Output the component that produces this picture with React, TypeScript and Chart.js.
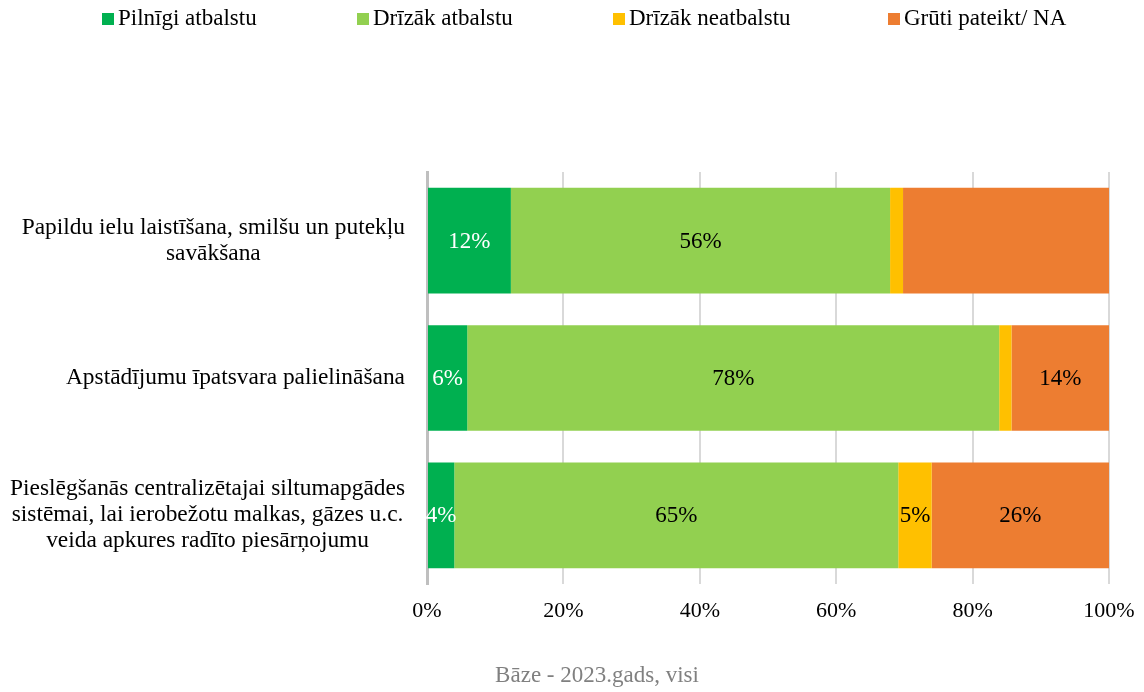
import React, { useEffect, useRef } from "react";
import { Chart, registerables } from "chart.js";

Chart.register(...registerables);

const categories: string[][] = [
  ["Papildu ielu laistīšana, smilšu un putekļu", "savākšana"],
  ["Apstādījumu īpatsvara palielināšana"],
  [
    "Pieslēgšanās centralizētajai siltumapgādes",
    "sistēmai, lai ierobežotu malkas, gāzes u.c.",
    "veida apkures radīto piesārņojumu",
  ],
];
const seriesNames = ["Pilnīgi atbalstu", "Drīzāk atbalstu", "Drīzāk neatbalstu", "Grūti pateikt/ NA"];
const fullySupport = [12.3, 5.9, 4.0];
const ratherSupport = [55.6, 78.0, 65.1];
const ratherNotSupport = [1.9, 1.8, 4.9];
const hardToSay = [30.2, 14.3, 26.0];
const fullySupportShowLabel = [true, true, true];
const ratherSupportShowLabel = [true, true, true];
const ratherNotSupportShowLabel = [false, false, true];
const hardToSayShowLabel = [false, true, true];
const xTickValues = [0, 20, 40, 60, 80, 100];
const footnote = "Bāze - 2023.gads, visi";

const COLORS = ["#00B050", "#92D050", "#FFC000", "#ED7D31"];
const LABEL_COLORS = ["#FFFFFF", "#000000", "#000000", "#000000"];
const FONT = '"Liberation Serif", "Times New Roman", serif';
const FS = 23;

const customDraw = {
  id: "customDraw",
  afterDatasetsDraw(chart: any) {
    const ctx = chart.ctx;
    ctx.save();
    ctx.font = `${FS}px ${FONT}`;
    ctx.textAlign = "center";
    ctx.textBaseline = "middle";
    chart.data.datasets.forEach((ds: any, di: number) => {
      const meta = chart.getDatasetMeta(di);
      meta.data.forEach((el: any, i: number) => {
        if (!ds.showLabel[i]) return;
        const cx = (el.x + el.base) / 2;
        ctx.fillStyle = LABEL_COLORS[di];
        ctx.fillText(Math.round(ds.data[i]) + "%", cx, el.y + 1);
      });
    });
    ctx.restore();
  },
  afterDraw(chart: any) {
    const ctx = chart.ctx;
    ctx.save();
    ctx.font = `23.4px ${FONT}`;
    ctx.textBaseline = "middle";
    const yScale = chart.scales.y;
    const rightEdge = chart.chartArea.left - 22;
    const lineH = 26;
    categories.forEach((lines, i) => {
      const yc = yScale.getPixelForValue(i);
      const maxW = Math.max(...lines.map((l) => ctx.measureText(l).width));
      const cx = rightEdge - maxW / 2;
      ctx.textAlign = "center";
      ctx.fillStyle = "#000000";
      lines.forEach((l, k) => {
        const y = yc + (k - (lines.length - 1) / 2) * lineH;
        ctx.fillText(l, cx, y);
      });
    });
    ctx.font = `${FS}px ${FONT}`;
    const legendX = [102, 357, 613, 888];
    seriesNames.forEach((name, i) => {
      ctx.fillStyle = COLORS[i];
      ctx.fillRect(legendX[i], 13, 12, 12);
      ctx.fillStyle = "#000000";
      ctx.textAlign = "left";
      ctx.fillText(name, legendX[i] + 16, 19);
    });
    ctx.fillStyle = "#808080";
    ctx.textAlign = "center";
    ctx.fillText(footnote, 597, 676);
    ctx.restore();
  },
};

export default function App() {
  const ref = useRef<HTMLCanvasElement>(null);
  useEffect(() => {
    if (!ref.current) return;
    const seriesValues = [fullySupport, ratherSupport, ratherNotSupport, hardToSay];
    const seriesShow = [fullySupportShowLabel, ratherSupportShowLabel, ratherNotSupportShowLabel, hardToSayShowLabel];
    const chart = new Chart(ref.current, {
      type: "bar",
      data: {
        labels: categories.map((c) => c.join(" ")),
        datasets: seriesNames.map((name, i) => ({
          label: name,
          data: seriesValues[i],
          backgroundColor: COLORS[i],
          borderWidth: 0,
          barPercentage: 0.77,
          categoryPercentage: 1,
          showLabel: seriesShow[i],
        })) as any,
      },
      options: {
        indexAxis: "y",
        animation: false,
        responsive: false,
        maintainAspectRatio: false,
        layout: { padding: { left: 0, right: 35, top: 172, bottom: 0 } },
        plugins: {
          legend: { display: false },
          tooltip: { enabled: false },
          title: { display: false },
        },
        scales: {
          x: {
            stacked: true,
            min: 0,
            max: 100,
            afterBuildTicks: (scale: any) => {
              scale.ticks = xTickValues.map((v) => ({ value: v }));
            },
            ticks: {
              callback: (v: any) => v + "%",
              color: "#000000",
              font: { family: FONT, size: 22 },
              padding: 14,
              maxRotation: 0,
            },
            grid: { color: "#D9D9D9", lineWidth: 2, drawTicks: false },
            border: { display: false },
            afterFit: (scale: any) => {
              scale.height = 108;
              scale.paddingRight = 0;
              scale.paddingLeft = 0;
            },
          },
          y: {
            stacked: true,
            ticks: { display: false },
            grid: { display: false },
            border: { display: true, color: "#BFBFBF", width: 3 },
            afterFit: (scale: any) => {
              scale.width = 427;
            },
          },
        },
      } as any,
      plugins: [customDraw],
    });
    return () => chart.destroy();
  }, []);
  return (
    <div style={{ position: "fixed", left: 0, top: 0, width: 1144, height: 692, background: "#fff" }}>
      <canvas ref={ref} width={1144} height={692} style={{ width: 1144, height: 692 }} />
    </div>
  );
}
